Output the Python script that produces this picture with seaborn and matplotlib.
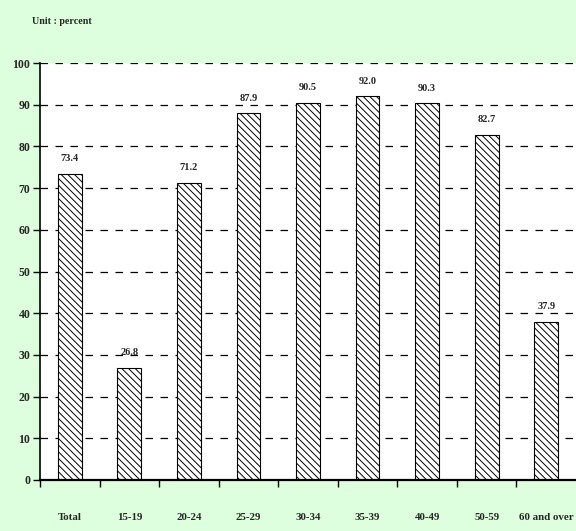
import matplotlib
matplotlib.use("Agg")
import matplotlib.pyplot as plt
import seaborn as sns
import pandas as pd

categories = ["Total", "15-19", "20-24", "25-29", "30-34", "35-39", "40-49", "50-59", "60 and over"]
values = [73.4, 26.8, 71.2, 87.9, 90.5, 92.0, 90.3, 82.7, 37.9]
yticks = [0, 10, 20, 30, 40, 50, 60, 70, 80, 90, 100]

df = pd.DataFrame({"age": categories, "pct": values})

sns.set_theme(style="white")
plt.rcParams['font.family'] = ['Liberation Serif', 'DejaVu Serif']
plt.rcParams['hatch.linewidth'] = 0.7
plt.rcParams['hatch.color'] = '#444444'

bg = '#DDFFDD'
fig = plt.figure(figsize=(5.76, 5.31), dpi=100, facecolor=bg)
ax = fig.add_axes([40/576, 51/531, 536/576, 417/531])
ax.set_facecolor('white')

sns.barplot(data=df, x="age", y="pct", ax=ax, color='white', width=0.4,
            edgecolor='black', linewidth=0.8, order=categories)
for p in ax.patches:
    p.set_hatch('\\\\\\\\\\')

ax.set_xlim(-0.5, 8.5)
ax.set_ylim(0, 100)
ax.set_yticks(yticks)
ax.set_yticklabels([str(t) for t in yticks], fontsize=8.5, fontweight='bold')
for y in yticks[1:]:
    ax.axhline(y, color='black', linestyle=(0, (6, 6)), linewidth=0.9, zorder=0.5)

ax.set_xticks([i + 0.5 for i in range(-1, 8)])
ax.set_xticklabels([])
ax.tick_params(axis='x', direction='out', length=5, width=1, color='black', bottom=True)
ax.tick_params(axis='y', direction='out', length=5, width=1, color='black', left=True, pad=2)
for i, c in enumerate(categories):
    ax.text(i, -9.0, c, ha='center', va='center', fontsize=7.8, fontweight='bold')

for i, v in enumerate(values):
    ax.text(i, v + 2.6, f"{v:.1f}", ha='center', va='bottom', fontsize=7.5, fontweight='bold')

ax.spines['top'].set_visible(False)
ax.spines['right'].set_visible(False)
ax.spines['left'].set_color('black')
ax.spines['left'].set_linewidth(1.2)
ax.spines['bottom'].set_color('black')
ax.spines['bottom'].set_linewidth(1.6)
ax.set_xlabel('')
ax.set_ylabel('')

fig.text(32/576, 1 - 22/531, "Unit : percent", ha='left', va='center', fontsize=7.2, fontweight='bold')

fig.savefig("out.png", dpi=100, facecolor=bg)
